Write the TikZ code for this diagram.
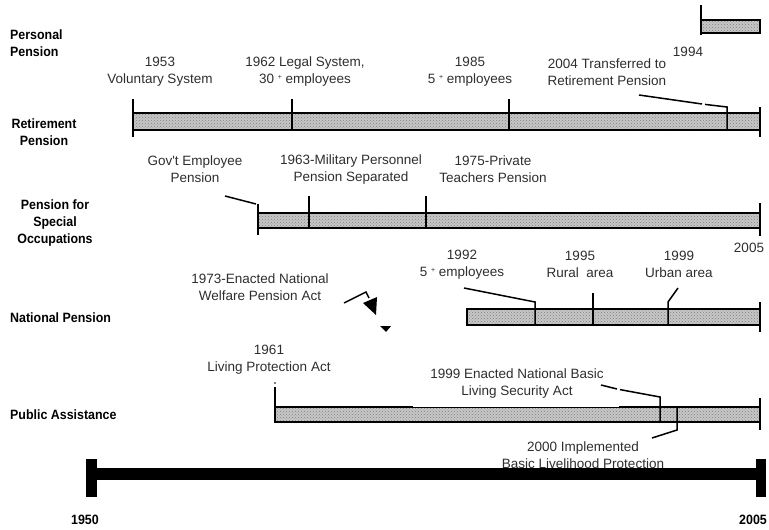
\documentclass[tikz,border=0pt]{standalone}
\usepackage{fontspec}
\setmainfont{Liberation Sans}[Ligatures=TeXOff]
\newfontfamily\headfont[FakeStretch=0.92]{Liberation Sans}
\usetikzlibrary{patterns}
\definecolor{barbg}{gray}{0.78}
\definecolor{dotgray}{gray}{0.50}
\definecolor{txtgray}{gray}{0.18}
\newcommand\notefont{\fontsize{13.5}{17}\selectfont}
\newcommand\headtext{\headfont\bfseries\fontsize{13.5}{17}\selectfont}
\newcommand\plusup{\raisebox{0.55ex}{\fontsize{7}{7}\selectfont +}}

\begin{document}
\begin{tikzpicture}[x=1pt,y=-1pt,
  note/.style={align=center,font=\notefont,text=txtgray,inner sep=0pt},
  rowlbl/.style={font=\headtext,inner sep=0pt},
  barfill/.style={fill=barbg,postaction={pattern=crosshatch dots,pattern color=dotgray}},
  barline/.style={line width=2pt},
  tickline/.style={line width=2pt},
  lead/.style={line width=1.5pt}]
\useasboundingbox (0,0) rectangle (769,530);

% ---------- row titles ----------
\node[rowlbl,align=left,anchor=west] (tPers) at (10,43) {Personal\\Pension};
\node[rowlbl,align=center] (tRet) at (44,132.5) {Retirement\\Pension};
\node[rowlbl,align=center] (tSpec) at (55,223.5) {Pension for\\Special\\Occupations};
\node[rowlbl,anchor=west] (tNat) at (10,318) {National Pension};
\node[rowlbl,anchor=west] (tPub) at (10,415) {Public Assistance};

% ---------- Personal Pension ----------
\path[barfill] (701,20) rectangle (760,33);
\draw[barline] (701,20) rectangle (760,33);
\draw[tickline] (701,5) -- (701,35);
\node[note] (n1994) at (688,52) {1994};

% ---------- Retirement Pension ----------
\path[barfill] (133,113) rectangle (760,130);
\draw[barline] (133,113) rectangle (760,130);
\draw[tickline] (133,99) -- (133,137);
\draw[tickline] (292,99) -- (292,130);
\draw[tickline] (509,99) -- (509,130);
\draw[tickline] (760,107) -- (760,137);
\coordinate (r04a) at (639,95);
\coordinate (r04b) at (702,104);
\coordinate (r04c) at (705,104.4);
\coordinate (r04d) at (727,107);
\coordinate (r04e) at (727,130);
\draw[lead] (r04a) -- (r04b);
\draw[lead] (r04c) -- (r04d) -- (r04e);
\node[note] (n1953) at (160,71.5) {1953\\Voluntary System};
\node[note] (n1962) at (305,71.5) {1962 Legal System,\\30 \plusup{} employees};
\node[note] (n1985) at (470,71.5) {1985\\5 \plusup{} employees};
\node[note] (n2004) at (607,72) {2004 Transferred to\\Retirement Pension};

% ---------- Pension for Special Occupations ----------
\path[barfill] (258,213) rectangle (760,228);
\draw[barline] (258,213) rectangle (760,228);
\coordinate (gova) at (225,196);
\coordinate (govb) at (256,204);
\draw[lead] (gova) -- (govb);
\draw[tickline] (258,204) -- (258,235);
\draw[tickline] (309,196) -- (309,228);
\draw[tickline] (426,196) -- (426,228);
\draw[tickline] (760,203) -- (760,236);
\node[note] (ngov) at (195,169.5) {Gov't Employee\\Pension};
\node[note] (n1963) at (351,169.5) {1963-Military Personnel\\Pension Separated};
\node[note] (n1975) at (493,169.5) {1975-Private\\Teachers Pension};
\node[note] (n2005a) at (749,248) {2005};

% ---------- National Pension ----------
\path[barfill] (467,309) rectangle (760,325);
\draw[barline] (467,309) rectangle (760,325);
\coordinate (n92a) at (464,288);
\coordinate (n92b) at (535,302);
\coordinate (n92c) at (535,325);
\draw[lead] (n92a) -- (n92b) -- (n92c);
\draw[tickline] (593,293) -- (593,325);
\coordinate (n99a) at (678,288);
\coordinate (n99b) at (668,302);
\coordinate (n99c) at (668,325);
\draw[lead] (n99a) -- (n99b) -- (n99c);
\draw[tickline] (760,302) -- (760,332);
\node[note] (n1992) at (462,264.5) {1992\\5 \plusup{} employees};
\node[note] (n1995) at (580,264.5) {1995\\Rural~ area};
\node[note] (n1999u) at (679,264.5) {1999\\Urban area};
\node[note] (n1973) at (260,287.5) {1973-Enacted National\\Welfare Pension Act};
% pointer from the 1973 note
\coordinate (p73a) at (344,303);
\coordinate (p73b) at (366,292);
\coordinate (p73c) at (369,298);
\draw[lead] (p73a) -- (p73b) -- (p73c);
\fill (363,303) -- (377,297) -- (376,315) -- cycle;
\fill (380,326) -- (391,326) -- (386,332) -- cycle;

% ---------- Public Assistance ----------
\path[barfill] (275,407) rectangle (760,422);
\draw[barline] (275,422) -- (760,422) -- (760,407);
\draw[barline] (275,407) -- (413,407);
\draw[line width=1pt] (413,407) -- (619,407);
\draw[barline] (619,407) -- (760,407);
\draw[tickline] (275,387) -- (275,423);
\fill (275,383) circle (0.9);
\draw[tickline] (760,398) -- (760,430);
\coordinate (p99a) at (601,385);
\coordinate (p99b) at (617,389);
\coordinate (p99c) at (620,389.6);
\coordinate (p99d) at (660,397);
\coordinate (p99e) at (660,422);
\draw[lead] (p99a) -- (p99b);
\draw[lead] (p99c) -- (p99d) -- (p99e);
\coordinate (p00a) at (677,407);
\coordinate (p00b) at (677,430);
\coordinate (p00c) at (652,438);
\draw[lead] (p00a) -- (p00b) -- (p00c);
\node[note] (n1961) at (269,360) {1961\\Living Protection Act};
\node[note] (n1999p) at (517,383.5) {1999 Enacted National Basic\\Living Security Act};
\node[note] (n2000) at (583,455) {2000 Implemented\\Basic Livelihood Protection};

% ---------- time axis ----------
\fill (97,468) rectangle (756,480);
\fill (86,459) rectangle (97,497);
\fill (756,459) rectangle (766,497);
\node[rowlbl] (y1950) at (85,520) {1950};
\node[rowlbl] (y2005) at (753,520) {2005};
\end{tikzpicture}
\end{document}
